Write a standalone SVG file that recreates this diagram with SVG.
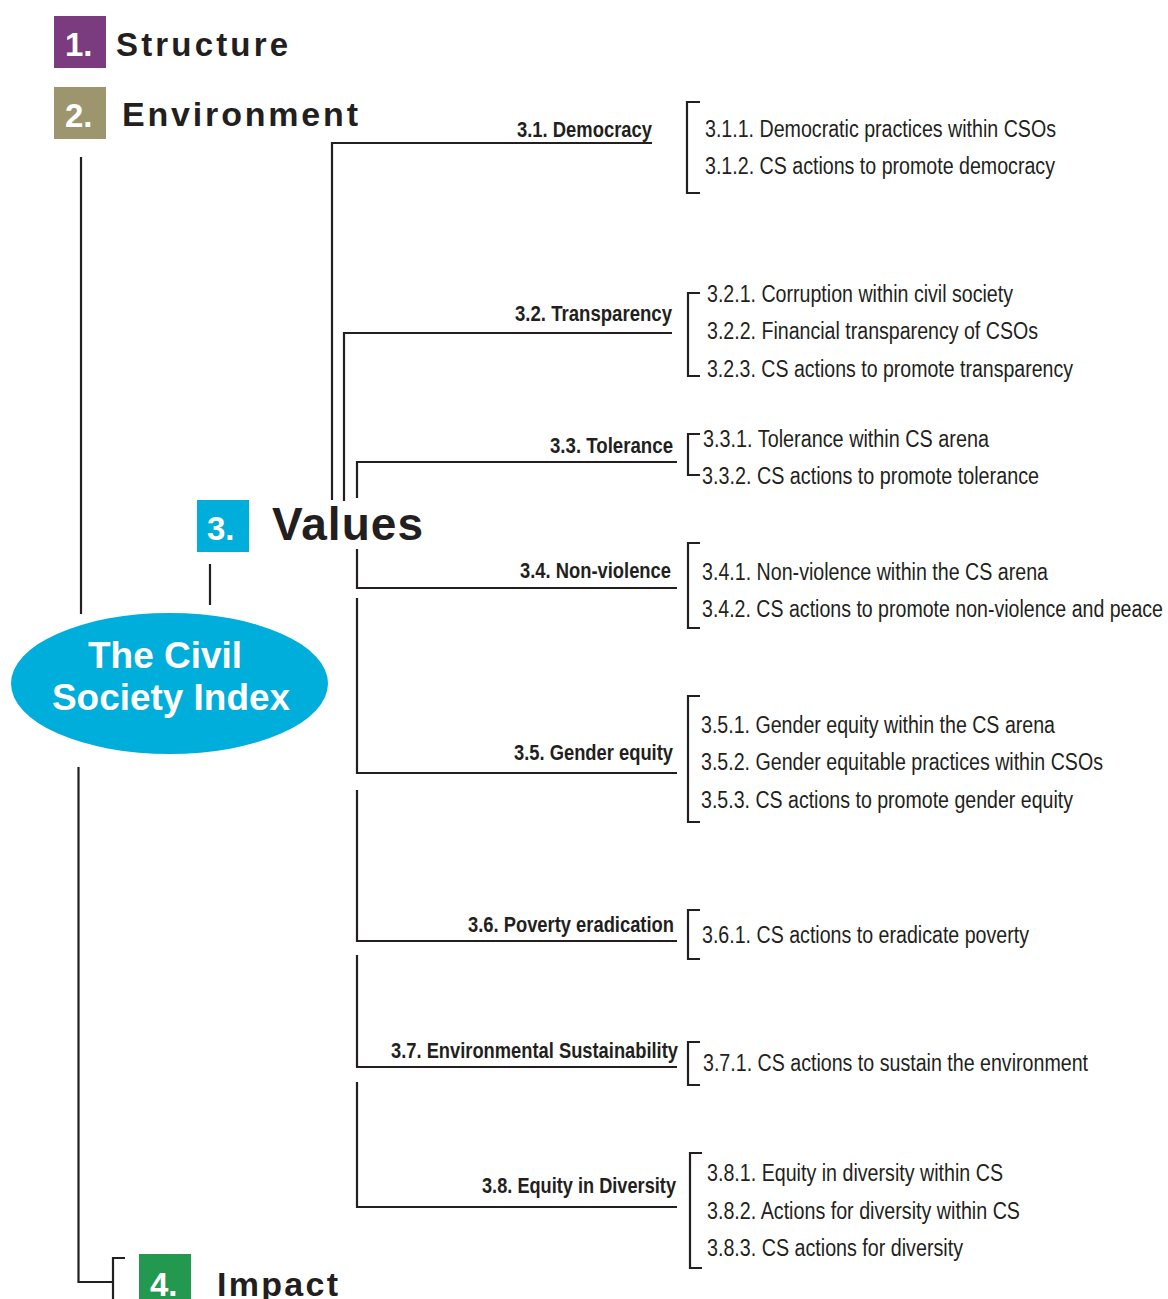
<svg xmlns="http://www.w3.org/2000/svg" width="1168" height="1299" viewBox="0 0 1168 1299">
<style>
.ln{fill:none;stroke:#231F20;stroke-width:2.2;stroke-linecap:butt}
.hd{font-family:"Liberation Sans",Arial,sans-serif;font-weight:bold;fill:#231F20}
.num{font-family:"Liberation Sans",Arial,sans-serif;font-weight:bold;fill:#FFFFFF;font-size:33px}
.lbl{font-family:"Liberation Sans Narrow","Liberation Sans",Arial,sans-serif;font-weight:bold;fill:#231F20;font-size:22px;text-anchor:end}
.it{font-family:"Liberation Sans Narrow","Liberation Sans",Arial,sans-serif;fill:#231F20;font-size:23.5px}
.el{font-family:"Liberation Sans",Arial,sans-serif;font-weight:bold;fill:#FFFFFF;font-size:37px}
</style>
<rect width="1168" height="1299" fill="#FFFFFF"/>

<g id="connectors">
  <path class="ln" d="M81,157 V614"/>
  <path class="ln" d="M210,564 V605"/>
  <path class="ln" d="M78.5,767 V1282 H113"/>
  <path class="ln" d="M125,1258 H113 V1299"/>
  <path class="ln" d="M332,500 V143 H652"/>
  <path class="ln" d="M344,501 V333 H672"/>
  <path class="ln" d="M357,498 V462 H677"/>
  <path class="ln" d="M357,549 V588 H677"/>
  <path class="ln" d="M357,598 V773 H677"/>
  <path class="ln" d="M357,790 V941 H677"/>
  <path class="ln" d="M357,955 V1067 H677"/>
  <path class="ln" d="M357,1082 V1207 H677"/>
  <path class="ln" d="M700,102 H687 V193 H700"/>
  <path class="ln" d="M700,293 H688 V376 H700"/>
  <path class="ln" d="M700,434 H688 V475 H700"/>
  <path class="ln" d="M700,543 H688 V628 H700"/>
  <path class="ln" d="M700,696 H688 V822 H700"/>
  <path class="ln" d="M700,910 H688 V959 H700"/>
  <path class="ln" d="M700,1042 H688 V1085 H700"/>
  <path class="ln" d="M702,1153 H690 V1268 H702"/>
</g>

<g id="node-structure">
  <rect x="54" y="16" width="52" height="52" fill="#7B3B7F"/>
  <text class="num" x="65" y="56">1.</text>
  <text class="hd" x="116" y="56" font-size="33" textLength="172" lengthAdjust="spacing">Structure</text>
</g>
<g id="node-environment">
  <rect x="54" y="87" width="52" height="52" fill="#9C956E"/>
  <text class="num" x="65" y="127">2.</text>
  <text class="hd" x="122" y="126" font-size="34" textLength="236" lengthAdjust="spacing">Environment</text>
</g>
<g id="node-values">
  <rect x="197" y="500" width="52" height="52" fill="#00AEDB"/>
  <text class="num" x="207" y="540">3.</text>
  <text class="hd" x="272" y="540" font-size="46" textLength="151" lengthAdjust="spacing">Values</text>
</g>
<g id="node-impact">
  <rect x="139" y="1254" width="52" height="52" fill="#23984F"/>
  <text class="num" x="150" y="1296">4.</text>
  <text class="hd" x="217" y="1296" font-size="34" textLength="121" lengthAdjust="spacing">Impact</text>
</g>
<g id="node-csi">
  <ellipse cx="169.5" cy="683.5" rx="158.5" ry="70.5" fill="#00AEDB"/>
  <text class="el" x="88" y="668" textLength="154" lengthAdjust="spacingAndGlyphs">The Civil</text>
  <text class="el" x="52" y="710" textLength="238" lengthAdjust="spacingAndGlyphs">Society Index</text>
</g>

<g id="node-3-1">
  <text class="lbl" x="652" y="137" textLength="135" lengthAdjust="spacingAndGlyphs">3.1. Democracy</text>
  <text class="it" x="705" y="136.5" textLength="351" lengthAdjust="spacingAndGlyphs">3.1.1. Democratic practices within CSOs</text>
  <text class="it" x="705" y="173.5" textLength="350" lengthAdjust="spacingAndGlyphs">3.1.2. CS actions to promote democracy</text>
</g>
<g id="node-3-2">
  <text class="lbl" x="672" y="321" textLength="157" lengthAdjust="spacingAndGlyphs">3.2. Transparency</text>
  <text class="it" x="707" y="302" textLength="306" lengthAdjust="spacingAndGlyphs">3.2.1. Corruption within civil society</text>
  <text class="it" x="707" y="339" textLength="331" lengthAdjust="spacingAndGlyphs">3.2.2. Financial transparency of CSOs</text>
  <text class="it" x="707" y="377" textLength="366" lengthAdjust="spacingAndGlyphs">3.2.3. CS actions to promote transparency</text>
</g>
<g id="node-3-3">
  <text class="lbl" x="673" y="453" textLength="123" lengthAdjust="spacingAndGlyphs">3.3. Tolerance</text>
  <text class="it" x="703" y="447" textLength="286" lengthAdjust="spacingAndGlyphs">3.3.1. Tolerance within CS arena</text>
  <text class="it" x="702" y="484" textLength="337" lengthAdjust="spacingAndGlyphs">3.3.2. CS actions to promote tolerance</text>
</g>
<g id="node-3-4">
  <text class="lbl" x="671" y="578" textLength="151" lengthAdjust="spacingAndGlyphs">3.4. Non-violence</text>
  <text class="it" x="702" y="580" textLength="346" lengthAdjust="spacingAndGlyphs">3.4.1. Non-violence within the CS arena</text>
  <text class="it" x="702" y="617" textLength="461" lengthAdjust="spacingAndGlyphs">3.4.2. CS actions to promote non-violence and peace</text>
</g>
<g id="node-3-5">
  <text class="lbl" x="673" y="760" textLength="159" lengthAdjust="spacingAndGlyphs">3.5. Gender equity</text>
  <text class="it" x="701" y="733" textLength="354" lengthAdjust="spacingAndGlyphs">3.5.1. Gender equity within the CS arena</text>
  <text class="it" x="701" y="770" textLength="402" lengthAdjust="spacingAndGlyphs">3.5.2. Gender equitable practices within CSOs</text>
  <text class="it" x="701" y="808" textLength="372" lengthAdjust="spacingAndGlyphs">3.5.3. CS actions to promote gender equity</text>
</g>
<g id="node-3-6">
  <text class="lbl" x="674" y="932" textLength="206" lengthAdjust="spacingAndGlyphs">3.6. Poverty eradication</text>
  <text class="it" x="702" y="943" textLength="327" lengthAdjust="spacingAndGlyphs">3.6.1. CS actions to eradicate poverty</text>
</g>
<g id="node-3-7">
  <text class="lbl" x="678" y="1058" textLength="287" lengthAdjust="spacingAndGlyphs">3.7. Environmental Sustainability</text>
  <text class="it" x="703" y="1071" textLength="385" lengthAdjust="spacingAndGlyphs">3.7.1. CS actions to sustain the environment</text>
</g>
<g id="node-3-8">
  <text class="lbl" x="676" y="1193" textLength="194" lengthAdjust="spacingAndGlyphs">3.8. Equity in Diversity</text>
  <text class="it" x="707" y="1181" textLength="296" lengthAdjust="spacingAndGlyphs">3.8.1. Equity in diversity within CS</text>
  <text class="it" x="707" y="1219" textLength="313" lengthAdjust="spacingAndGlyphs">3.8.2. Actions for diversity within CS</text>
  <text class="it" x="707" y="1256" textLength="256" lengthAdjust="spacingAndGlyphs">3.8.3. CS actions for diversity</text>
</g>
</svg>
